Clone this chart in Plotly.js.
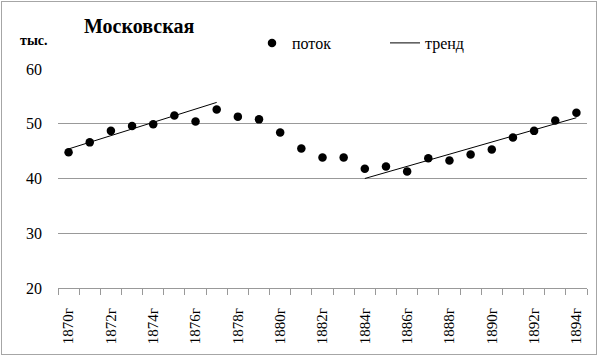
<!DOCTYPE html>
<html>
<head>
<meta charset="utf-8">
<script src="https://cdn.plot.ly/plotly-3.0.1.min.js"></script>
<style>
html,body{margin:0;padding:0;background:#fff;}
#wrap{position:relative;width:600px;height:358px;}
#chart{width:600px;height:358px;}
#frame{position:absolute;left:1px;top:1px;width:594px;height:352px;border:1px solid #a6a6a6;pointer-events:none;}
</style>
</head>
<body>
<div id="wrap"><div id="chart"></div><div id="frame"></div></div>
<script>
const years = [1870,1871,1872,1873,1874,1875,1876,1877,1878,1879,1880,1881,1882,1883,1884,1885,1886,1887,1888,1889,1890,1891,1892,1893,1894];
const flow = [44.8,46.6,48.7,49.6,49.9,51.5,50.4,52.6,51.3,50.8,48.4,45.5,43.85,43.85,41.8,42.2,41.3,43.7,43.3,44.4,45.3,47.5,48.7,50.6,52.0];
const trend1Years = [1870,1877];
const trend1Values = [45.4,53.9];
const trend2Years = [1884,1894];
const trend2Values = [40.0,51.1];
const tickYears = [1870,1872,1874,1876,1878,1880,1882,1884,1886,1888,1890,1892,1894];
const tickLabels = ["1870г","1872г","1874г","1876г","1878г","1880г","1882г","1884г","1886г","1888г","1890г","1892г","1894г"];
const yTicks = [20,30,40,50,60];

const serif = "Liberation Serif";

const traces = [
  {x: years, y: flow, type:'scatter', mode:'markers', name:'поток',
   marker:{color:'#000', size:8.5}},
  {x: trend1Years, y: trend1Values, type:'scatter', mode:'lines', name:'тренд',
   line:{color:'#000', width:1}, legendgroup:'t'},
  {x: trend2Years, y: trend2Values, type:'scatter', mode:'lines', name:'тренд',
   line:{color:'#000', width:1}, legendgroup:'t', showlegend:false}
];

const layout = {
  width:600, height:358,
  margin:{l:58, r:13, t:69, b:70},
  paper_bgcolor:'#fff', plot_bgcolor:'#fff',
  font:{family:serif, color:'#000', size:15},
  showlegend:true,
  legend:{orientation:'h', x:(252-58)/529, xanchor:'left', y:1+(69-43)/219, yanchor:'middle',
    entrywidth:88, entrywidthmode:'pixels', font:{family:serif, size:16, color:'#000'},
    bgcolor:'rgba(0,0,0,0)'},
  xaxis:{type:'linear', range:[1869.5,1894.5], tickmode:'array', tickvals:tickYears, ticktext:tickLabels,
    tickangle:-90, ticks:'', showgrid:false, zeroline:false, showline:true, linecolor:'#999', linewidth:1,
    ticklabelstandoff:13, tickfont:{family:serif, size:15, color:'#000'}, automargin:false,
    minor:{tickmode:'linear', tick0:1869.5, dtick:1, ticks:'outside', ticklen:6, tickcolor:'#999', tickwidth:1, showgrid:false}},
  yaxis:{range:[20,60], tickmode:'array', tickvals:yTicks, showgrid:true, gridcolor:'#999', gridwidth:1,
    zeroline:false, showline:false, ticks:'', ticklabelstandoff:15, automargin:false, tickfont:{family:serif, size:16, color:'#000'}},
  annotations:[
    {text:'<b>Московская</b>', xref:'paper', yref:'paper', x:(82-58)/529, y:1+(69-26)/219, xanchor:'left', yanchor:'middle',
     showarrow:false, font:{family:serif, size:20, color:'#000'}},
    {text:'<b>тыс.</b>', xref:'paper', yref:'paper', x:(18-58)/529, y:1+(69-40)/219, xanchor:'left', yanchor:'middle',
     showarrow:false, font:{family:serif, size:14, color:'#000'}}
  ]
};

Plotly.newPlot('chart', traces, layout, {staticPlot:true, displayModeBar:false});
</script>
</body>
</html>
